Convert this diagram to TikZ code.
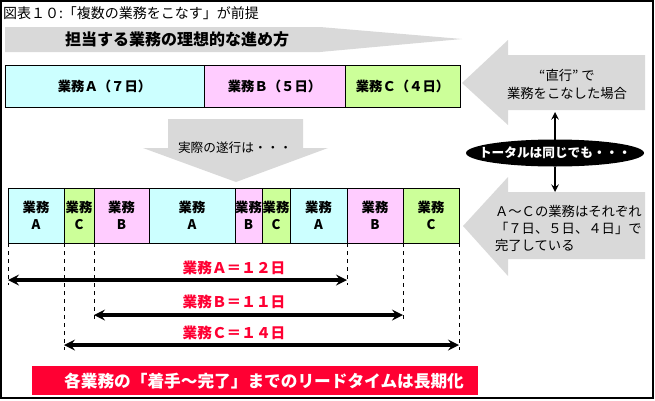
\documentclass[tikz,border=0pt]{standalone}
\usepackage{fontspec}
\setmainfont{Noto Sans CJK JP}
\usetikzlibrary{shapes.geometric}
\definecolor{gyoA}{HTML}{CCFFFF}
\definecolor{gyoB}{HTML}{FFCCFF}
\definecolor{gyoC}{HTML}{CCFF99}
\definecolor{usuzumi}{HTML}{D9D9D9}
\definecolor{aka}{HTML}{FF0033}
\begin{document}
\begin{tikzpicture}[x=0.75pt, y=-0.75pt, every node/.style={inner sep=0pt, outer sep=0pt}, line join=miter,
	seg/.style={draw, line width=0.6pt, align=center, font=\bfseries\fontsize{10}{12.75}\selectfont},
	block/.style={fill=usuzumi},
	span/.style={<->, >=stealth, line width=0.9mm},
	guide/.style={dashed, line width=0.4pt, shorten >=-4pt},
	daylbl/.style={text=aka, font=\bfseries\fontsize{11}{13}\selectfont}]
	\useasboundingbox (0,0) rectangle (655,400);
	\draw[line width=1.2pt] (1,1) rectangle (653,398);

	% 見出し
	\node[anchor=west, font=\fontsize{10.5}{12}\selectfont] (ttl) at (3,13) {図表１０:「複数の業務をこなす」が前提};
	\fill[block] (5,27) -- (320,27) -- (462,39) -- (320,52) -- (5,52) -- cycle;
	\node[font=\bfseries\fontsize{12}{14}\selectfont] (ideal) at (177,39) {担当する業務の理想的な進め方};

	% 理想的な進め方
	\node[seg, fill=gyoA, minimum width=149.25pt, minimum height=31.5pt] (iA) at (104.5,86) {業務Ａ（７日）};
	\node[seg, fill=gyoB, minimum width=105.75pt, minimum height=31.5pt] (iB) at (274.5,86) {業務Ｂ（５日）};
	\node[seg, fill=gyoC, minimum width=86.25pt, minimum height=31.5pt] (iC) at (402.5,86) {業務Ｃ（４日）};

	\fill[block] (462,83) -- (508,40) -- (508,55) -- (645,55) -- (645,110) -- (508,110) -- (508,125) -- cycle;
	\node[align=center, font=\fontsize{10}{13.5}\selectfont] (direct) at (567,84) {“直行” で\\業務をこなした場合};

	% 実際の遂行
	\fill[block] (168,119) -- (303,119) -- (303,148) -- (328,148) -- (236,182) -- (143,148) -- (168,148) -- cycle;
	\node[font=\fontsize{9.5}{11}\selectfont] (real) at (235,148) {実際の遂行は・・・};

	\node[seg, fill=gyoA, minimum width=42pt, minimum height=41.25pt] (a1) at (36,215.5) {業務\\A};
	\node[seg, fill=gyoC, minimum width=22.5pt, minimum height=41.25pt] (c1) at (79,215.5) {業務\\C};
	\node[seg, fill=gyoB, minimum width=41.25pt, minimum height=41.25pt] (b1) at (121.5,215.5) {業務\\B};
	\node[seg, fill=gyoA, minimum width=64.5pt, minimum height=41.25pt] (a2) at (192,215.5) {業務\\A};
	\node[seg, fill=gyoB, minimum width=20.25pt, minimum height=41.25pt] (b2) at (248.5,215.5) {業務\\B};
	\node[seg, fill=gyoC, minimum width=21pt, minimum height=41.25pt] (c2) at (276,215.5) {業務\\C};
	\node[seg, fill=gyoA, minimum width=42.75pt, minimum height=41.25pt] (a3) at (318.5,215.5) {業務\\A};
	\node[seg, fill=gyoB, minimum width=42pt, minimum height=41.25pt] (b3) at (375,215.5) {業務\\B};
	\node[seg, fill=gyoC, minimum width=42pt, minimum height=41.25pt] (c3) at (431,215.5) {業務\\C};

	\fill[block] (463,226) -- (508,177) -- (508,192) -- (645,192) -- (645,259) -- (508,259) -- (508,276) -- cycle;
	\node[anchor=west, align=left, font=\fontsize{10}{12.75}\selectfont] (done) at (495,228) {Ａ～Ｃの業務はそれぞれ\\「７日、５日、４日」で\\完了している};

	% トータル
	\node[ellipse, fill=black, minimum width=133.5pt, minimum height=20.25pt] (tot) at (555,153) {};
	\node[text=white, font=\bfseries\fontsize{9.5}{11}\selectfont] (totx) at (tot) {トータルは同じでも・・・};
	\coordinate (up) at (555,112);
	\coordinate (dn) at (555,192);
	\draw[->, >=stealth, line width=1.5pt] (tot.north) -- (up);
	\draw[->, >=stealth, line width=1.5pt] (tot.south) -- (dn);

	% リードタイム
	\coordinate (aS) at (8,280);
	\coordinate (aE) at (347,280);
	\coordinate (bS) at (94,315);
	\coordinate (bE) at (403,315);
	\coordinate (cS) at (64,345);
	\coordinate (cE) at (459,345);
	\draw[guide] (a1.south west) -- (aS);
	\draw[guide] (a3.south east) -- (aE);
	\draw[guide] (b1.south west) -- (bS);
	\draw[guide] (b3.south east) -- (bE);
	\draw[guide] (c1.south west) -- (cS);
	\draw[guide] (c3.south east) -- (cE);
	\draw[span] (aS) -- (aE);
	\draw[span] (bS) -- (bE);
	\draw[span] (cS) -- (cE);
	\node[daylbl] (dA) at (234,268) {業務Ａ＝１２日};
	\node[daylbl] (dB) at (234,302) {業務Ｂ＝１１日};
	\node[daylbl] (dC) at (234,333) {業務Ｃ＝１４日};

	\fill[aka] (32,366) rectangle (478,395);
	\node[text=white, font=\bfseries\fontsize{12.5}{14}\selectfont] (lead) at (264,381) {各業務の「着手～完了」までのリードタイムは長期化};
\end{tikzpicture}
\end{document}
